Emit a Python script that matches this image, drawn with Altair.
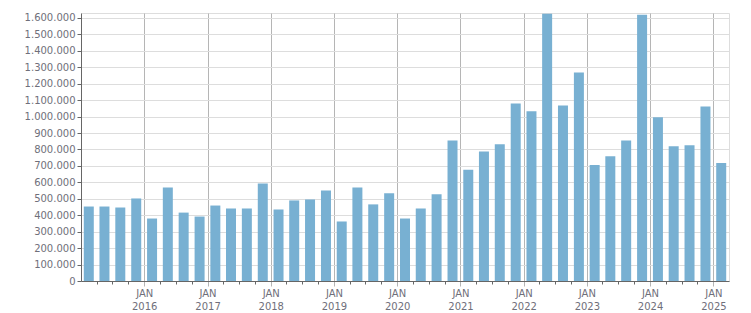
import altair as alt
import pandas as pd

# Quarterly values, Q1 2015 .. Q1 2025
years = [2015]*4 + [y for y in range(2016, 2025) for _ in range(4)] + [2025]
quarters = [1, 2, 3, 4]*10 + [1]
values = [
    453000, 453000, 447000, 502000,
    380000, 569000, 416000, 392000,
    459000, 441000, 441000, 593000,
    435000, 490000, 496000, 550000,
    362000, 569000, 466000, 533000,
    380000, 441000, 527000, 854000,
    676000, 788000, 831000, 1079000,
    1032000, 1626000, 1067000, 1268000,
    706000, 758000, 855000, 1620000,
    996000, 820000, 826000, 1061000,
    718000,
]
y_ticks = list(range(0, 1600001, 100000))

starts = [pd.Timestamp(year=y, month=3*(q-1)+1, day=1, tz="UTC") for y, q in zip(years, quarters)]
ends = [s + pd.DateOffset(months=3) for s in starts]
mids = [s + (e - s) / 2 for s, e in zip(starts, ends)]
df = pd.DataFrame({"date": [m.strftime("%Y-%m-%dT%H:%M:%SZ") for m in mids], "value": values})

tick_dates = [alt.DateTime(year=y, month=m, date=1, utc=True)
              for y in range(2015, 2026) for m in (1, 4, 7, 10)
              if not (y == 2015 and m == 1) and not (y == 2025 and m > 1)]

label_color = "#6f6f7a"

x_axis = alt.Axis(
    title=None,
    values=tick_dates,
    labelExpr="utcmonth(datum.value) == 0 ? ['JAN', utcFormat(datum.value, '%Y')] : ''",
    labelOverlap=False,
    labelBound=False,
    labelFlush=False,
    labelFont="DejaVu Sans",
    labelFontSize=10,
    labelColor=label_color,
    labelLineHeight=13,
    labelPadding=2,
    grid=True,
    gridColor=alt.condition("utcmonth(datum.value) == 0", alt.value("#b5b5b5"), alt.value("transparent")),
    gridWidth=1,
    tickColor=alt.condition("utcmonth(datum.value) == 0", alt.value("#b5b5b5"), alt.value("#666666")),
    tickSize=alt.condition("utcmonth(datum.value) == 0", alt.value(5), alt.value(3)),
    domainColor="#666666",
    domainWidth=1,
)

y_axis = alt.Axis(
    title=None,
    values=y_ticks,
    labelExpr="replace(replace(format(datum.value, ','), ',', '.'), ',', '.')",
    labelFont="DejaVu Sans",
    labelFontSize=10,
    labelColor=label_color,
    labelPadding=2,
    tickSize=4,
    tickColor="#666666",
    domainColor="#666666",
    gridColor="#dddddd",
    labelBound=False,
)

chart = alt.Chart(df).mark_bar(width=10, color="#78b0d2").encode(
    x=alt.X("date:T", axis=x_axis,
            scale=alt.Scale(type="utc", padding=0,
                            domain=[alt.DateTime(year=2015, month=1, date=1, utc=True),
                                    alt.DateTime(year=2025, month=4, date=1, utc=True)])),
    y=alt.Y("value:Q", axis=y_axis, scale=alt.Scale(domain=[0, 1630000], nice=False)),
).properties(
    width=648, height=268,
    autosize="none",
    padding={"left": 81, "top": 13, "right": 22, "bottom": 32},
).configure_view(stroke="#dddddd").configure(background="white")

chart.save("out.html", embed_options={"renderer": "svg", "actions": False})
